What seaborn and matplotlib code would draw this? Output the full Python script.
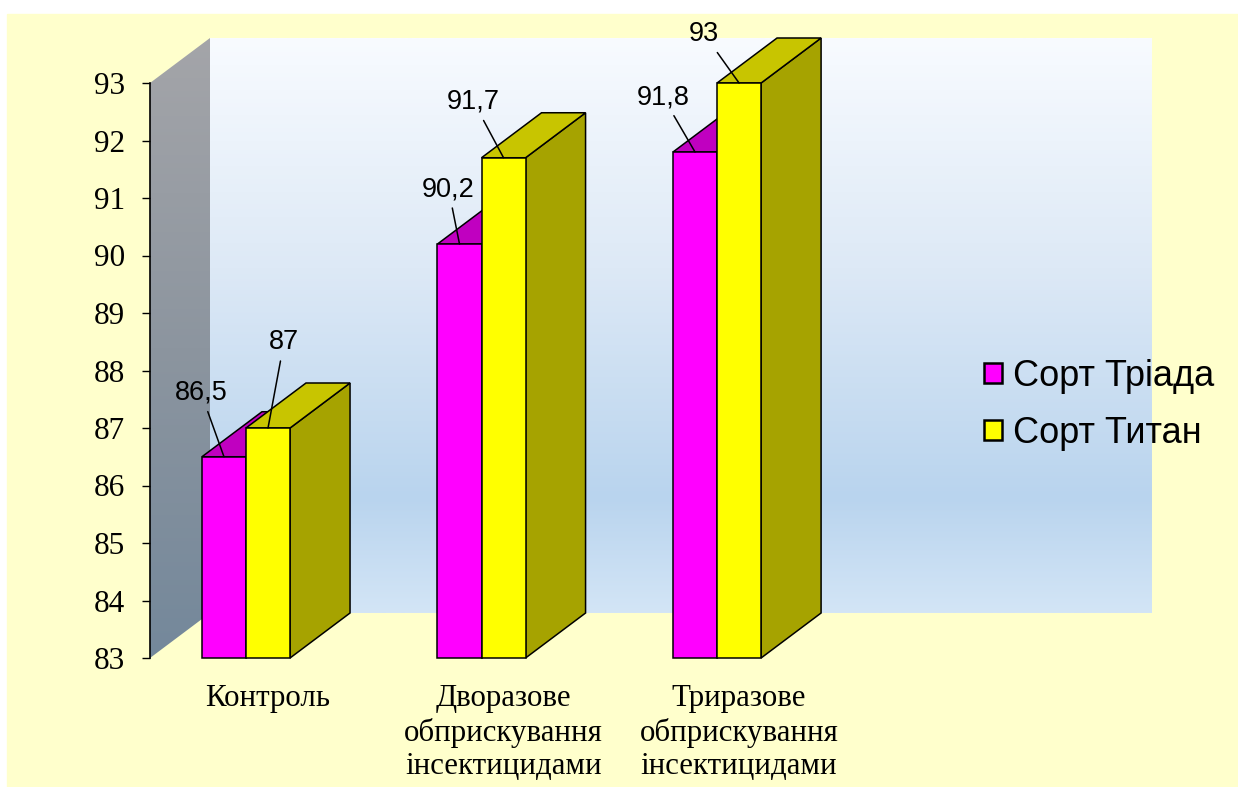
import numpy as np
import pandas as pd
import matplotlib
matplotlib.use("Agg")
import matplotlib.pyplot as plt
import seaborn as sns
from matplotlib.patches import Polygon, Rectangle, Patch
from matplotlib.colors import LinearSegmentedColormap
from matplotlib.transforms import ScaledTranslation

# ---- data -------------------------------------------------------------
categories = [
    "Контроль",
    "Дворазове\nобприскування\nінсектицидами",
    "Триразове\nобприскування\nінсектицидами",
]
series = ["Сорт Тріада", "Сорт Титан"]
triada = [86.5, 90.2, 91.8]
titan = [87.0, 91.7, 93.0]
y_ticks = list(range(83, 94))

# ---- style ------------------------------------------------------------
sns.set_style("white")
plt.rcParams["font.family"] = ["Liberation Sans", "DejaVu Sans"]
for key in ("text.color", "axes.labelcolor", "xtick.color", "ytick.color"):
    plt.rcParams[key] = "black"
SERIF = ["Liberation Serif", "DejaVu Serif"]
SANS = ["Liberation Sans", "DejaVu Sans"]

FRONT = {"Сорт Тріада": "#FF00FF", "Сорт Титан": "#FFFF00"}
TOP = {"Сорт Тріада": "#C000C0", "Сорт Титан": "#C8C500"}
SIDE = {"Сорт Тріада": "#990099", "Сорт Титан": "#A6A300"}
PAGE = "#FFFFCC"
DEPTH_PX = (60, 45)          # oblique depth of the 3-D look, in pixels
EDGE_LW = 1.1

# label offsets (pixels) of each value text from its bar's top centre
label_offsets = {
    "Сорт Тріада": [(-23, 64), (-11, 55), (-32, 55)],
    "Сорт Титан": [(16, 86), (-30, 56), (-35, 49)],
}

W, H = 1238, 787
fig = plt.figure(figsize=(W / 100, H / 100), dpi=100)
fig.patch.set_facecolor("white")

# background canvas in pixel coordinates (y downwards)
ax_bg = fig.add_axes([0, 0, 1, 1], zorder=0)
ax_bg.set_xlim(0, W)
ax_bg.set_ylim(H, 0)
ax_bg.axis("off")

# main axes
L_px, R_px, T_px, B_px = 150, 1092, 83, 658
ax = fig.add_axes([L_px / W, (H - B_px) / H, (R_px - L_px) / W, (B_px - T_px) / H], zorder=1)
ax.patch.set_alpha(0)

df = pd.DataFrame({
    "category": categories * 2,
    "sort": [s for s in series for _ in categories],
    "value": triada + titan,
})
sns.barplot(data=df, x="category", y="value", hue="sort", order=categories,
            hue_order=series, palette=[FRONT[s] for s in series], width=0.374,
            errorbar=None, edgecolor="black", linewidth=EDGE_LW, saturation=1,
            legend=False, ax=ax)

ax.set_ylim(y_ticks[0], y_ticks[-1])
ax.set_xlim(-0.4076, 3.592)

# page background and walls
ax_bg.add_patch(Rectangle((7, 14), W - 7, H - 14, color=PAGE, zorder=0))
dxp, dyp = DEPTH_PX
wall_cmap = LinearSegmentedColormap.from_list(
    "wall", [(0.0, "#F8FBFF"), (0.4, "#DDE9F6"), (0.8, "#B9D4EE"), (1.0, "#D3E5F6")])
grad = np.linspace(0, 1, 256)[:, None]
ax_bg.imshow(grad, cmap=wall_cmap, aspect="auto", origin="upper",
             extent=[L_px + dxp, R_px + dxp, B_px - dyp, T_px - dyp], zorder=1)
side_cmap = LinearSegmentedColormap.from_list("side", ["#A4A5A9", "#8C959F", "#74889B"])
side_poly = Polygon([(L_px, T_px), (L_px + dxp, T_px - dyp), (L_px + dxp, B_px - dyp), (L_px, B_px)],
                    closed=True, facecolor="none", edgecolor="none")
ax_bg.add_patch(side_poly)
im = ax_bg.imshow(grad, cmap=side_cmap, aspect="auto", origin="upper",
                  extent=[L_px, L_px + dxp, B_px, T_px - dyp], zorder=1)
im.set_clip_path(side_poly)
ax_bg.set_xlim(0, W)
ax_bg.set_ylim(H, 0)

# depth vector in data units
base = y_ticks[0]
p0 = ax.transData.transform((0, base))
dx, dy = ax.transData.inverted().transform(p0 + np.array([dxp, dyp])) - np.array([0, base])

# extrude the seaborn bars into boxes
n = len(categories)
for k, p in enumerate(ax.patches):
    s = series[k // n]
    lvl = 2 + k // n
    x0, w = p.get_x(), p.get_width()
    top = p.get_y() + p.get_height()
    p.set_y(base)
    p.set_height(top - base)
    p.set_clip_on(False)
    p.set_zorder(lvl + 0.5)
    top_face = Polygon([(x0, top), (x0 + w, top), (x0 + w + dx, top + dy), (x0 + dx, top + dy)],
                       closed=True, facecolor=TOP[s], edgecolor="black", lw=EDGE_LW,
                       clip_on=False, zorder=lvl, joinstyle="miter")
    side_face = Polygon([(x0 + w, base), (x0 + w, top), (x0 + w + dx, top + dy), (x0 + w + dx, base + dy)],
                        closed=True, facecolor=SIDE[s], edgecolor="black", lw=EDGE_LW,
                        clip_on=False, zorder=lvl, joinstyle="miter")
    ax.add_patch(side_face)
    ax.add_patch(top_face)
    ox, oy = label_offsets[s][k % n]
    ax.annotate(f"{top:g}".replace(".", ","), xy=(x0 + w / 2, top), xytext=(ox, oy),
                textcoords="offset pixels", ha="center", va="center", fontsize=19.5,
                family=SANS, color="black", zorder=10, annotation_clip=False,
                arrowprops=dict(arrowstyle="-", color="black", lw=1.1, shrinkA=2, shrinkB=0))

# axes styling
for sp in ("top", "right", "bottom"):
    ax.spines[sp].set_visible(False)
ax.spines["left"].set_color("black")
ax.spines["left"].set_linewidth(1.2)
ax.set_yticks(y_ticks)
ax.set_yticklabels([str(t) for t in y_ticks], family=SERIF, fontsize=22.5, color="black")
ax.tick_params(axis="y", direction="out", length=6, width=1, color="black", pad=12, left=True)
ax.set_xticks(range(n))
ax.set_xticklabels(categories, family=SERIF, fontsize=22.2, linespacing=1.2, color="black")
ax.tick_params(axis="x", length=0, pad=19)
shift = ScaledTranslation(0.22, 0, fig.dpi_scale_trans)
for lab in ax.get_xticklabels():
    lab.set_transform(lab.get_transform() + shift)
ax.set_xlabel("")
ax.set_ylabel("")

handles = [Patch(facecolor=FRONT[s], edgecolor="black", lw=1.8) for s in series]
leg = fig.legend(handles, series, loc="center left", bbox_to_anchor=(984 / W, 1 - 405 / H),
                 frameon=False, handlelength=0.5, handleheight=0.48,
                 handletextpad=0.3, labelspacing=0.6, borderpad=0, borderaxespad=0,
                 prop={"family": SANS, "size": 26})
for t in leg.get_texts():
    t.set_color("black")
leg.set_zorder(10)

fig.savefig("out.png", dpi=100, facecolor=fig.get_facecolor())
